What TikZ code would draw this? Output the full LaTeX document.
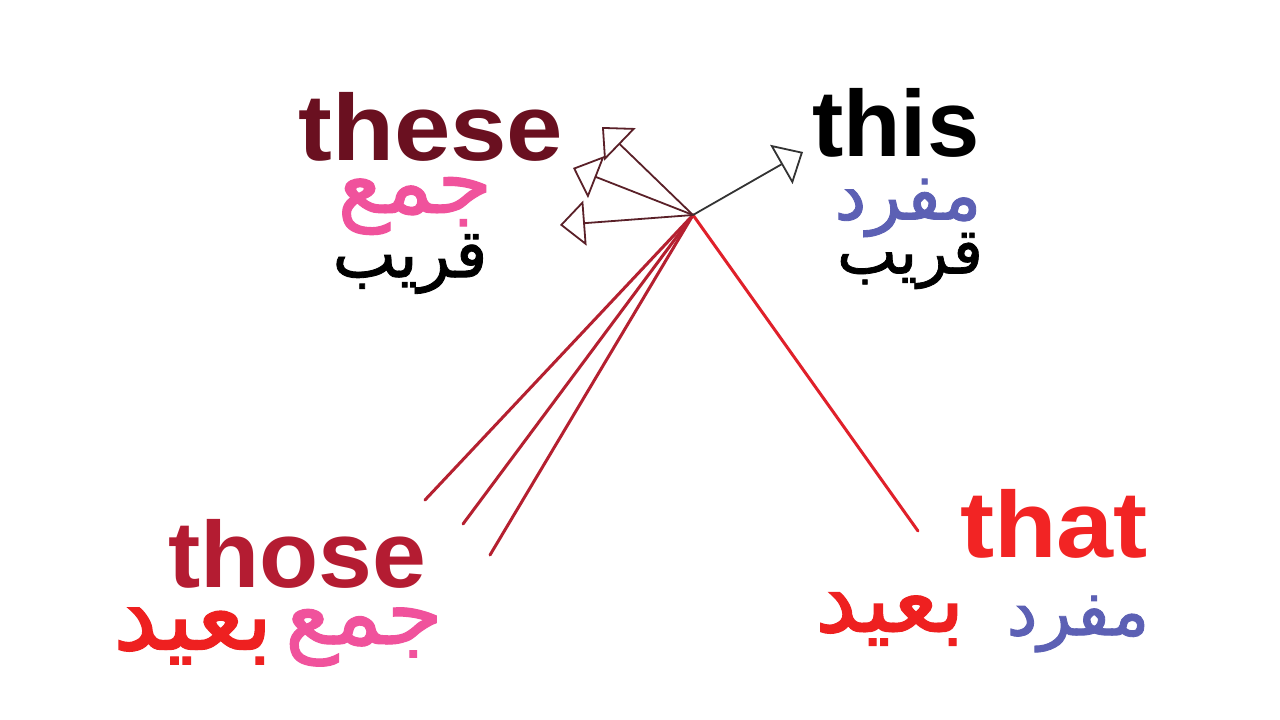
\documentclass[tikz,border=0pt]{standalone}
\usepackage{fontspec}
\usepackage{graphicx}
\setmainfont{Liberation Sans}
\newfontfamily\arabicfont[Script=Arabic, FakeBold=1.2]{DejaVu Sans}
\usetikzlibrary{arrows.meta}
\TeXXeTstate=1
\definecolor{cThese}{HTML}{6A1020}
\definecolor{cThose}{HTML}{B41C32}
\definecolor{cThat}{HTML}{F22424}
\definecolor{cPink}{HTML}{F0529C}
\definecolor{cBlue}{HTML}{5C60B4}
\definecolor{cRed}{HTML}{EE2020}
\definecolor{cArrow}{HTML}{5A2028}
\definecolor{cArrowB}{HTML}{333333}
\definecolor{cLineThose}{HTML}{B52030}
\definecolor{cLineThat}{HTML}{E0202A}
\newcommand{\arword}[1]{{\arabicfont\beginR #1\endR}}
\begin{document}
\begin{tikzpicture}[x=1pt,y=-1pt,
  eng/.style={inner sep=0pt, anchor=base west, font=\bfseries\fontsize{94}{94}\selectfont},
  arab/.style={inner sep=0pt, anchor=center},
  ptr/.style={line width=1.8pt, -{Triangle[open, length=25pt, width=45pt, line width=1.8pt]}},
  redline/.style={line width=3pt, line cap=round}]
\path[use as bounding box, fill=white] (0,0) rectangle (1280,720);

% words
\node[eng, text=cThese] (these) at (298,160) {\scalebox{1.08}[1]{these}};
\node[eng, text=black] (this) at (812,156) {\scalebox{1.0}[1]{this}};
\node[eng, text=cThose] (those) at (168,587) {\scalebox{1.03}[1]{those}};
\node[eng, text=cThat] (that) at (960,557) {\scalebox{1.09}[1]{that}};

% arabic labels
\node[arab, text=cPink] (jam1) at (415,206) {\resizebox{155pt}{!}{\arword{جمع}}};
\node[arab, text=black] (qarib1) at (410,264) {\resizebox{155pt}{!}{\arword{قريب}}};
\node[arab, text=cBlue] (mufrad1) at (908,208) {\resizebox{147pt}{!}{\arword{مفرد}}};
\node[arab, text=black] (qarib2) at (910,261) {\resizebox{146pt}{!}{\arword{قريب}}};
\node[arab, text=cRed] (baid1) at (193,636) {\resizebox{160pt}{!}{\arword{بعيد}}};
\node[arab, text=cPink] (jam2) at (364,637) {\resizebox{158pt}{!}{\arword{جمع}}};
\node[arab, text=cRed] (baid2) at (890,619) {\resizebox{150pt}{!}{\arword{بعيد}}};
\node[arab, text=cBlue] (mufrad2) at (1078,624) {\resizebox{143pt}{!}{\arword{مفرد}}};

% hub and ends
\coordinate (c) at (693,215);
\coordinate (t1) at (602,127);
\coordinate (t2) at (573,168);
\coordinate (t3) at (560,225);
\coordinate (t4) at (803,152);
\coordinate (e1) at (425,500);
\coordinate (e2) at (463,524);
\coordinate (e3) at (490,555);
\coordinate (e4) at (918,531);

\draw[redline, cLineThose] (c) -- (e1);
\draw[redline, cLineThose] (c) -- (e2);
\draw[redline, cLineThose] (c) -- (e3);
\draw[redline, cLineThat] (c) -- (e4);
\draw[ptr, cArrow] (c) -- (t1);
\draw[ptr, cArrow] (c) -- (t2);
\draw[ptr, cArrow] (c) -- (t3);
\draw[ptr, cArrowB] (c) -- (t4);
\end{tikzpicture}
\end{document}
